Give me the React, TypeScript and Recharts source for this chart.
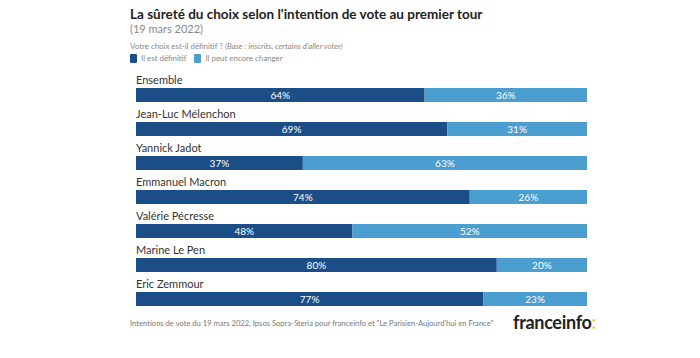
import React from "react";
import { BarChart, Bar, XAxis, YAxis, LabelList } from "recharts";

const categories = [
  "Ensemble",
  "Jean-Luc Mélenchon",
  "Yannick Jadot",
  "Emmanuel Macron",
  "Valérie Pécresse",
  "Marine Le Pen",
  "Eric Zemmour",
];
const definitif = [64, 69, 37, 74, 48, 80, 77];
const peutChanger = [36, 31, 63, 26, 52, 20, 23];
const seriesNames = ["Il est définitif", "Il peut encore changer"];

const DARK = "#1b4e87";
const LIGHT = "#4a9ed0";
const FONT = "Lato, 'Noto Sans', sans-serif";

const data = categories.map((name, i) => ({
  name,
  definitif: definitif[i],
  peutChanger: peutChanger[i],
}));

const NameLabel = (props: any) => {
  const { x, y, value } = props;
  return (
    <text x={x} y={y - 4} fill="#333" fontSize={11} fontFamily={FONT}>
      {value}
    </text>
  );
};

const PctLabel = (props: any) => {
  const { x, y, width, height, value } = props;
  return (
    <text
      x={x + width / 2}
      y={y + height / 2 + 3.5}
      fill="#fff"
      fontSize={10}
      fontFamily={FONT}
      textAnchor="middle"
    >
      {value}%
    </text>
  );
};

export default function App() {
  return (
    <div
      style={{
        position: "absolute",
        left: 0,
        top: 0,
        width: 700,
        height: 358,
        background: "#fff",
        fontFamily: FONT,
      }}
    >
      <div style={{ position: "absolute", left: 130, top: 6, fontSize: 13.5, fontWeight: 700, color: "#222", whiteSpace: "nowrap" }}>
        La sûreté du choix selon l'intention de vote au premier tour
      </div>
      <div style={{ position: "absolute", left: 130, top: 22, fontSize: 11, color: "#888", whiteSpace: "nowrap" }}>
        (19 mars 2022)
      </div>
      <div style={{ position: "absolute", left: 130, top: 41, fontSize: 7.9, color: "#888", whiteSpace: "nowrap" }}>
        Votre choix est-il définitif ? <i>(Base : inscrits, certains d'aller voter)</i>
      </div>
      <div style={{ position: "absolute", left: 130, top: 53, fontSize: 7.9, color: "#888", whiteSpace: "nowrap", display: "flex", alignItems: "center" }}>
        <span style={{ display: "inline-block", width: 7, height: 9, background: DARK, borderRadius: 1, marginRight: 4 }} />
        <span style={{ marginRight: 8 }}>{seriesNames[0]}</span>
        <span style={{ display: "inline-block", width: 7, height: 9, background: LIGHT, borderRadius: 1, marginRight: 4 }} />
        <span>{seriesNames[1]}</span>
      </div>
      <div style={{ position: "absolute", left: 130, top: 318, fontSize: 7.6, color: "#777", whiteSpace: "nowrap" }}>
        Intentions de vote du 19 mars 2022, Ipsos Sopra-Steria pour franceinfo et "Le Parisien-Aujourd'hui en France"
      </div>
      <div style={{ position: "absolute", left: 513, top: 311, fontSize: 18, fontWeight: 700, color: "#222", whiteSpace: "nowrap", letterSpacing: -0.3 }}>
        franceinfo<span style={{ color: "#f5d23a" }}>:</span>
      </div>
      <div style={{ position: "absolute", left: 0, top: 0 }}>
        <BarChart
          width={700}
          height={358}
          data={data}
          layout="vertical"
          margin={{ top: 78, bottom: 42, left: 136, right: 113 }}
        >
          <XAxis type="number" domain={[0, 100]} hide />
          <YAxis type="category" dataKey="name" hide />
          <Bar dataKey="definitif" stackId="a" fill={DARK} barSize={14} isAnimationActive={false}>
            <LabelList dataKey="name" content={NameLabel} />
            <LabelList dataKey="definitif" content={PctLabel} />
          </Bar>
          <Bar dataKey="peutChanger" stackId="a" fill={LIGHT} barSize={14} isAnimationActive={false}>
            <LabelList dataKey="peutChanger" content={PctLabel} />
          </Bar>
        </BarChart>
      </div>
    </div>
  );
}
